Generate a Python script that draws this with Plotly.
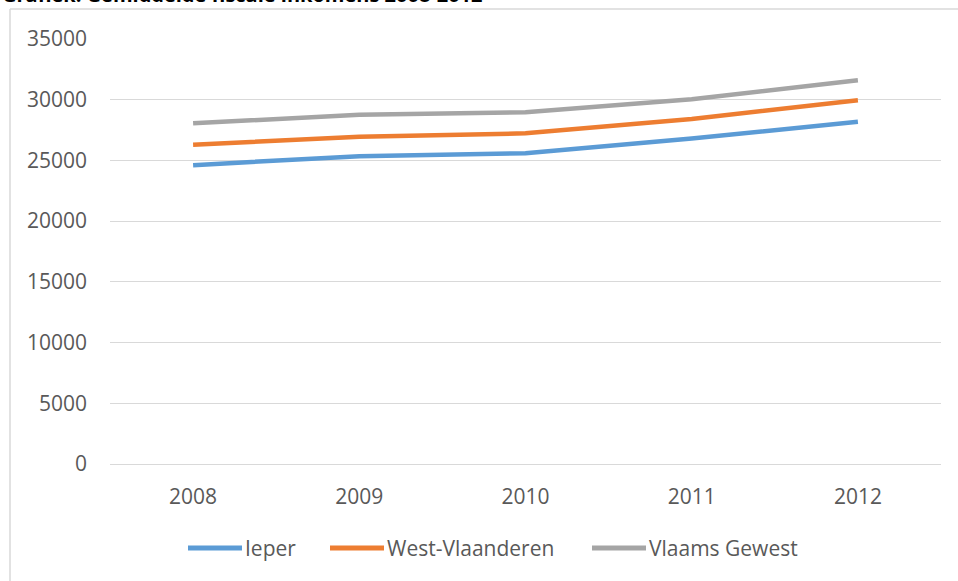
import plotly.graph_objects as go

years = ["2008", "2009", "2010", "2011", "2012"]
ieper = [24610, 25350, 25600, 26800, 28180]
west_vlaanderen = [26300, 26950, 27230, 28420, 29960]
vlaams_gewest = [28060, 28760, 28960, 30040, 31600]
y_ticks = [0, 5000, 10000, 15000, 20000, 25000, 30000, 35000]
series_names = ["Ieper", "West-Vlaanderen", "Vlaams Gewest"]
series_colors = ["#5B9BD5", "#ED7D31", "#A5A5A5"]
title_text = "Grafiek: Gemiddelde fiscale inkomens 2008-2012"

W, H = 958, 581
L, R, T, B = 110, 17, 39, 117
pw, ph = W - L - R, H - T - B

def px_x(p):
    return (p - L) / pw

def px_y(p):
    return 1 - (p - T) / ph

font = "Open Sans, Lato, sans-serif"
fig = go.Figure()
for name, vals, col in zip(series_names, [ieper, west_vlaanderen, vlaams_gewest], series_colors):
    fig.add_trace(go.Scatter(x=years, y=vals, mode="lines", name=name,
                             line=dict(color=col, width=4.5), showlegend=False))

fig.update_layout(
    width=W, height=H,
    margin=dict(l=L, r=R, t=T, b=B),
    paper_bgcolor="white", plot_bgcolor="white",
    font=dict(family=font, size=21, color="#595959"),
    showlegend=False,
    xaxis=dict(type="category", range=[-0.5, 4.5], showgrid=False,
               showline=True, linecolor="#D9D9D9", linewidth=1,
               ticks="", tickfont=dict(size=21, color="#595959"), ticklabelstandoff=14),
    yaxis=dict(range=[0, 35000], tickvals=y_ticks, ticktext=[str(v) for v in y_ticks],
               showgrid=True, gridcolor="#D9D9D9", gridwidth=1, zeroline=False,
               showline=False, ticks="", ticklabelstandoff=22,
               tickfont=dict(size=21, color="#595959")),
)

# legend drawn below the plot (line sample + label)
legend_line_x = [188, 330, 592]
legend_y = 548
for name, col, lx in zip(series_names, series_colors, legend_line_x):
    fig.add_shape(type="line", xref="paper", yref="paper",
                  x0=px_x(lx), x1=px_x(lx + 54), y0=px_y(legend_y), y1=px_y(legend_y),
                  line=dict(color=col, width=5))
    fig.add_annotation(text=name, xref="paper", yref="paper", x=px_x(lx + 55),
                       xanchor="left", y=px_y(legend_y), yanchor="middle",
                       showarrow=False, font=dict(family=font, size=21, color="#595959"))

# chart frame (left and top border)
x_left = px_x(10)
y_top = px_y(9)
fig.add_shape(type="line", xref="paper", yref="paper", x0=x_left, x1=x_left,
              y0=y_top, y1=px_y(H + 10), line=dict(color="#D9D9D9", width=1.5))
fig.add_shape(type="line", xref="paper", yref="paper", x0=x_left, x1=px_x(W + 10),
              y0=y_top, y1=y_top, line=dict(color="#D9D9D9", width=1.5))

fig.add_annotation(text="<b>" + title_text + "</b>", xref="paper", yref="paper",
                   x=px_x(0), xanchor="left", y=px_y(10), yanchor="bottom",
                   showarrow=False, font=dict(family=font, size=20, color="black"))

fig.write_html("out.html", config={"displayModeBar": False},
               post_script="document.body.style.margin='0';document.body.style.overflow='hidden';")
